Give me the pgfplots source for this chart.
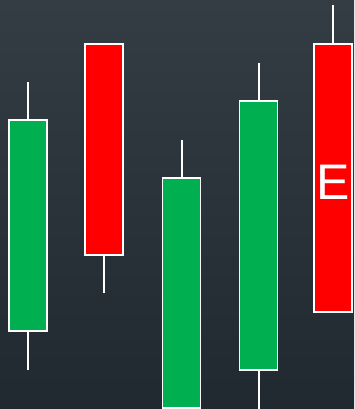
\documentclass[border=0pt]{standalone}
\usepackage{pgfplots}
\pgfplotsset{compat=1.18}
\usepackage{fontspec}
\setmainfont{Liberation Sans}
\definecolor{bgtop}{RGB}{51,61,67}
\definecolor{bgbot}{RGB}{32,41,47}
\definecolor{cgreen}{RGB}{0,176,80}
\definecolor{cred}{RGB}{255,0,0}
\begin{document}
\begin{tikzpicture}
\begin{axis}[
  scale only axis, width=354pt, height=409pt,
  xmin=0, xmax=354, ymin=0, ymax=409,
  axis line style={draw=none}, ticks=none,
  axis background/.style={shade, top color=bgtop, bottom color=bgbot},
]
% wicks (low -> high)
\addplot[white, line width=2pt] coordinates {(28,39) (28,327)};
\addplot[white, line width=2pt] coordinates {(104,116) (104,365)};
\addplot[white, line width=2pt] coordinates {(181.5,-10) (181.5,269)};
\addplot[white, line width=2pt] coordinates {(258.5,-20) (258.5,346)};
\addplot[white, line width=2pt] coordinates {(333,97) (333,404)};
% bodies (open/close)
\addplot[fill=cgreen, draw=white, line width=1.5pt] coordinates {(9,78) (47,78) (47,289) (9,289)} -- cycle;
\addplot[fill=cred, draw=white, line width=1.5pt] coordinates {(85,154) (123,154) (123,365) (85,365)} -- cycle;
\addplot[fill=cgreen, draw=white, line width=1.5pt] coordinates {(162.5,1) (200.5,1) (200.5,231) (162.5,231)} -- cycle;
\addplot[fill=cgreen, draw=white, line width=1.5pt] coordinates {(239.5,39) (277.5,39) (277.5,308) (239.5,308)} -- cycle;
\addplot[fill=cred, draw=white, line width=1.5pt] coordinates {(314,97) (352,97) (352,365) (314,365)} -- cycle;
\node[text=white, font=\fontsize{50}{50}\selectfont, inner sep=0pt] at (axis cs:333,227) {E};
\end{axis}
\end{tikzpicture}
\end{document}
